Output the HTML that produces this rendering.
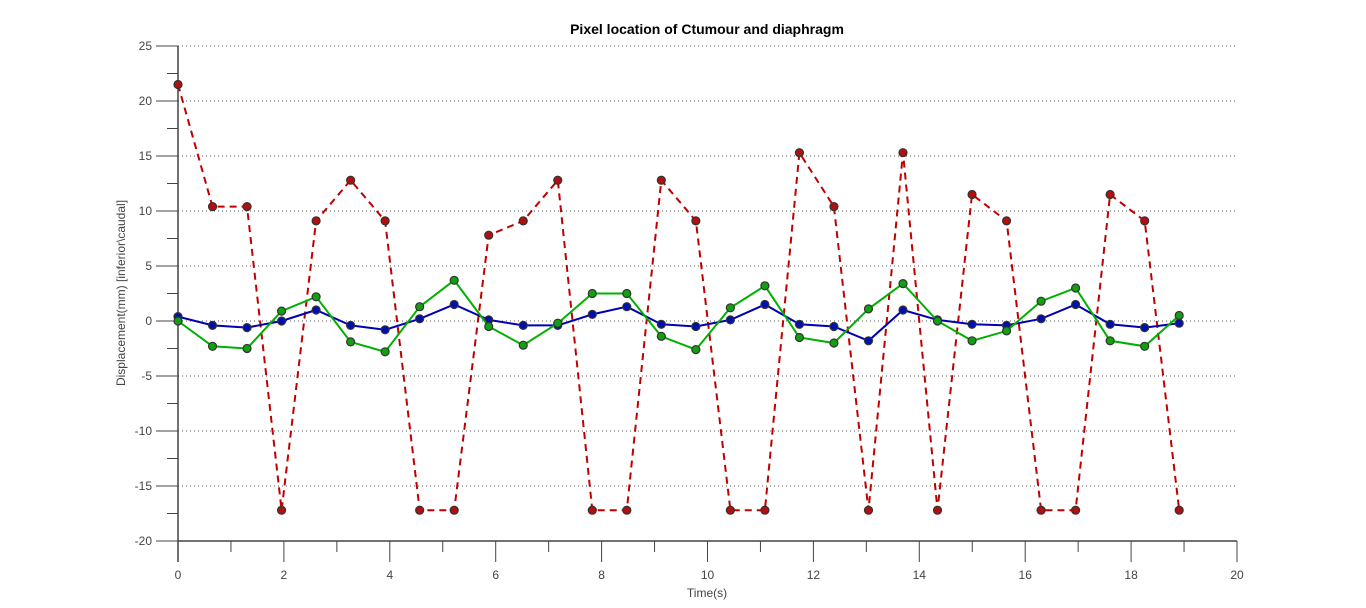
<!DOCTYPE html>
<html><head><meta charset="utf-8"><style>
html,body{margin:0;padding:0;background:#fff;}
svg{display:block;font-family:"Liberation Sans",sans-serif;}
</style></head><body>
<svg id="chart" width="1366" height="608" viewBox="0 0 1366 608" xmlns="http://www.w3.org/2000/svg">
<text x="707" y="34" text-anchor="middle" font-size="14" font-weight="bold" fill="#000">Pixel location of Ctumour and diaphragm</text>
<text x="707" y="597" text-anchor="middle" font-size="12" fill="#444">Time(s)</text>
<text transform="translate(125,293) rotate(-90)" text-anchor="middle" font-size="12" fill="#444">Displacement(mm) [inferior\caudal]</text>
<g id="grid"></g><g id="axes"></g><g id="series"></g>
</svg>
<script>
const redValues=[21.5,10.4,10.4,-17.2,9.1,12.8,9.1,-17.2,-17.2,7.8,9.1,12.8,-17.2,-17.2,12.8,9.1,-17.2,-17.2,15.3,10.4,-17.2,15.3,-17.2,11.5,9.1,-17.2,-17.2,11.5,9.1,-17.2];
const greenValues=[0,-2.3,-2.5,0.9,2.2,-1.9,-2.8,1.3,3.7,-0.5,-2.2,-0.2,2.5,2.5,-1.4,-2.6,1.2,3.2,-1.5,-2.0,1.1,3.4,0,-1.8,-0.9,1.8,3.0,-1.8,-2.3,0.5];
const blueValues=[0.4,-0.4,-0.6,0,1.0,-0.4,-0.8,0.2,1.5,0.1,-0.4,-0.4,0.6,1.3,-0.3,-0.5,0.1,1.5,-0.3,-0.5,-1.8,1.0,0.1,-0.3,-0.4,0.2,1.5,-0.3,-0.6,-0.2];
const timeStep=0.652;
const xTickLabels=[0,2,4,6,8,10,12,14,16,18,20];
const yTickLabels=[25,20,15,10,5,0,-5,-10,-15,-20];
const NS="http://www.w3.org/2000/svg";
const X=v=>178+v*(1237-178)/20;
const Y=v=>541-(v+20)*(541-46)/45;
function mk(t,a,p){const e=document.createElementNS(NS,t);for(const k in a)e.setAttribute(k,a[k]);p.appendChild(e);return e;}
const grid=document.getElementById('grid'),axes=document.getElementById('axes'),ser=document.getElementById('series');
const c="#444";
yTickLabels.forEach(v=>{
  if(v!==-20){const g=mk('line',{x1:178,x2:1237,y1:Y(v),y2:Y(v),stroke:'#555','stroke-width':1,'stroke-dasharray':'1,3'},grid);
  
  }
  const t=mk('line',{x1:156,x2:178,y1:Y(v),y2:Y(v),stroke:c},axes);
  
  
  const l=mk('text',{x:152,y:Y(v)+4,'text-anchor':'end','font-size':12,fill:c},axes);l.textContent=v;
  
  
  if(v!==-20){const m=mk('line',{x1:167,x2:178,y1:Y(v-2.5),y2:Y(v-2.5),stroke:c},axes);
  
  }
});
xTickLabels.forEach(v=>{
  const t=mk('line',{x1:X(v),x2:X(v),y1:541,y2:562,stroke:c},axes);
  
  
  const l=mk('text',{x:X(v),y:579,'text-anchor':'middle','font-size':12,fill:c},axes);l.textContent=v;
  
  
  if(v<20){const m=mk('line',{x1:X(v+1),x2:X(v+1),y1:541,y2:552,stroke:c},axes);
  
  }
});
const ax=mk('line',{x1:178,x2:1237,y1:541,y2:541,stroke:c,'stroke-width':1.5},axes);


const ay=mk('line',{x1:178,x2:178,y1:46,y2:562,stroke:c,'stroke-width':1.5},axes);


function draw(vals,color,fill,dash,name){
  const pts=vals.map((v,i)=>X(i*timeStep).toFixed(1)+','+Y(v).toFixed(1)).join(' ');
  const a={points:pts,fill:'none',stroke:color,'stroke-width':2};if(dash)a['stroke-dasharray']=dash;
  const p=mk('polyline',a,ser);
  
  
  vals.forEach((v,i)=>{const m=mk('circle',{cx:X(i*timeStep),cy:Y(v),r:4,fill:fill,stroke:'#333','stroke-width':1.2},ser);
  
  });
}
draw(redValues,'#c00000','#b01010','7,5','diaphragm');
draw(blueValues,'#0000b0','#0010b0',null,'tumour-blue');
draw(greenValues,'#00b000','#10a010',null,'tumour-green');
</script>
</body></html>
